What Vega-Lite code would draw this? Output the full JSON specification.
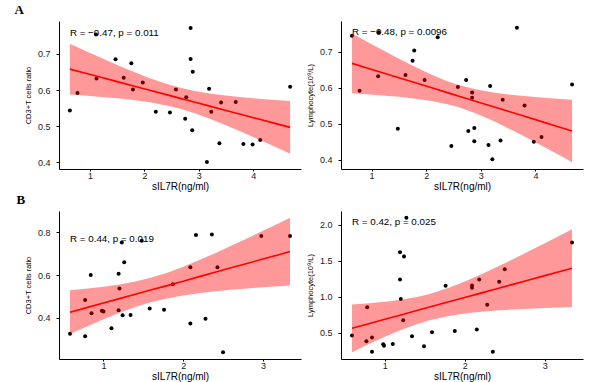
{
  "$schema": "https://vega.github.io/schema/vega-lite/v6.json",
  "background": "white",
  "padding": {"left": 14, "top": 4, "right": 5, "bottom": 1},
  "columns": 2,
  "spacing": {"row": 42, "column": 40},
  "bounds": "flush",
  "datasets": {
    "ptsA": [
      {"x": 0.63, "y": 0.544}, {"x": 0.77, "y": 0.592}, {"x": 1.11, "y": 0.754}, {"x": 1.12, "y": 0.632},
      {"x": 1.47, "y": 0.685}, {"x": 1.62, "y": 0.634}, {"x": 1.76, "y": 0.674}, {"x": 1.79, "y": 0.602},
      {"x": 1.97, "y": 0.621}, {"x": 2.21, "y": 0.540}, {"x": 2.47, "y": 0.538}, {"x": 2.58, "y": 0.602},
      {"x": 2.75, "y": 0.521}, {"x": 2.77, "y": 0.580}, {"x": 2.85, "y": 0.772}, {"x": 2.85, "y": 0.686},
      {"x": 2.89, "y": 0.651}, {"x": 2.88, "y": 0.489}, {"x": 3.15, "y": 0.401}, {"x": 3.19, "y": 0.604},
      {"x": 3.23, "y": 0.540}, {"x": 3.38, "y": 0.453}, {"x": 3.41, "y": 0.566}, {"x": 3.68, "y": 0.567},
      {"x": 3.82, "y": 0.451}, {"x": 3.99, "y": 0.450}, {"x": 4.13, "y": 0.462}, {"x": 4.68, "y": 0.609}
    ],
    "fitA": [
      {"x": 0.63, "fit": 0.6580, "lo": 0.5876, "hi": 0.7284},
      {"x": 0.9, "fit": 0.6473, "lo": 0.5848, "hi": 0.7098},
      {"x": 1.2, "fit": 0.6353, "lo": 0.5812, "hi": 0.6894},
      {"x": 1.5, "fit": 0.6234, "lo": 0.5772, "hi": 0.6696},
      {"x": 1.8, "fit": 0.6115, "lo": 0.5724, "hi": 0.6506},
      {"x": 2.1, "fit": 0.5996, "lo": 0.5662, "hi": 0.6330},
      {"x": 2.4, "fit": 0.5876, "lo": 0.5578, "hi": 0.6174},
      {"x": 2.61, "fit": 0.5793, "lo": 0.5503, "hi": 0.6083},
      {"x": 2.9, "fit": 0.5678, "lo": 0.5373, "hi": 0.5983},
      {"x": 3.2, "fit": 0.5558, "lo": 0.5211, "hi": 0.5905},
      {"x": 3.5, "fit": 0.5439, "lo": 0.5030, "hi": 0.5848},
      {"x": 3.8, "fit": 0.5320, "lo": 0.4838, "hi": 0.5802},
      {"x": 4.1, "fit": 0.5201, "lo": 0.4638, "hi": 0.5764},
      {"x": 4.4, "fit": 0.5081, "lo": 0.4433, "hi": 0.5729},
      {"x": 4.68, "fit": 0.4970, "lo": 0.4239, "hi": 0.5701}
    ],
    "ptsB": [
      {"x": 0.64, "y": 0.745}, {"x": 0.78, "y": 0.592}, {"x": 1.13, "y": 0.755}, {"x": 1.12, "y": 0.632},
      {"x": 1.48, "y": 0.486}, {"x": 1.62, "y": 0.636}, {"x": 1.75, "y": 0.675}, {"x": 1.78, "y": 0.704},
      {"x": 1.97, "y": 0.622}, {"x": 2.21, "y": 0.741}, {"x": 2.46, "y": 0.438}, {"x": 2.58, "y": 0.602},
      {"x": 2.73, "y": 0.622}, {"x": 2.77, "y": 0.480}, {"x": 2.84, "y": 0.587}, {"x": 2.84, "y": 0.572},
      {"x": 2.88, "y": 0.488}, {"x": 2.88, "y": 0.451}, {"x": 3.14, "y": 0.441}, {"x": 3.17, "y": 0.605},
      {"x": 3.21, "y": 0.401}, {"x": 3.36, "y": 0.453}, {"x": 3.40, "y": 0.567}, {"x": 3.66, "y": 0.767},
      {"x": 3.80, "y": 0.551}, {"x": 3.97, "y": 0.450}, {"x": 4.11, "y": 0.463}, {"x": 4.67, "y": 0.609}
    ],
    "fitB": [
      {"x": 0.64, "fit": 0.6680, "lo": 0.5851, "hi": 0.7509},
      {"x": 0.9, "fit": 0.6559, "lo": 0.5823, "hi": 0.7295},
      {"x": 1.2, "fit": 0.6419, "lo": 0.5788, "hi": 0.7050},
      {"x": 1.5, "fit": 0.6279, "lo": 0.5748, "hi": 0.6810},
      {"x": 1.8, "fit": 0.6139, "lo": 0.5698, "hi": 0.6580},
      {"x": 2.1, "fit": 0.5999, "lo": 0.5632, "hi": 0.6366},
      {"x": 2.4, "fit": 0.5859, "lo": 0.5539, "hi": 0.6179},
      {"x": 2.6, "fit": 0.5766, "lo": 0.5456, "hi": 0.6076},
      {"x": 2.9, "fit": 0.5626, "lo": 0.5294, "hi": 0.5958},
      {"x": 3.2, "fit": 0.5486, "lo": 0.5097, "hi": 0.5875},
      {"x": 3.5, "fit": 0.5346, "lo": 0.4876, "hi": 0.5816},
      {"x": 3.8, "fit": 0.5206, "lo": 0.4642, "hi": 0.5770},
      {"x": 4.1, "fit": 0.5066, "lo": 0.4401, "hi": 0.5731},
      {"x": 4.4, "fit": 0.4926, "lo": 0.4155, "hi": 0.5697},
      {"x": 4.67, "fit": 0.4800, "lo": 0.3931, "hi": 0.5669}
    ],
    "ptsC": [
      {"x": 0.58, "y": 0.324}, {"x": 0.77, "y": 0.312}, {"x": 0.77, "y": 0.482}, {"x": 0.84, "y": 0.600},
      {"x": 0.85, "y": 0.420}, {"x": 0.98, "y": 0.432}, {"x": 1.00, "y": 0.428}, {"x": 1.10, "y": 0.350},
      {"x": 1.19, "y": 0.606}, {"x": 1.20, "y": 0.536}, {"x": 1.19, "y": 0.434}, {"x": 1.23, "y": 0.753},
      {"x": 1.24, "y": 0.411}, {"x": 1.26, "y": 0.660}, {"x": 1.34, "y": 0.412}, {"x": 1.48, "y": 0.761},
      {"x": 1.58, "y": 0.443}, {"x": 1.76, "y": 0.437}, {"x": 1.87, "y": 0.557}, {"x": 2.09, "y": 0.637},
      {"x": 2.09, "y": 0.372}, {"x": 2.16, "y": 0.788}, {"x": 2.28, "y": 0.394}, {"x": 2.36, "y": 0.791},
      {"x": 2.43, "y": 0.637}, {"x": 2.50, "y": 0.237}, {"x": 2.98, "y": 0.783}, {"x": 3.34, "y": 0.783}
    ],
    "fitC": [
      {"x": 0.58, "fit": 0.4250, "lo": 0.3220, "hi": 0.5280},
      {"x": 0.8, "fit": 0.4477, "lo": 0.3594, "hi": 0.5360},
      {"x": 1.0, "fit": 0.4684, "lo": 0.3921, "hi": 0.5447},
      {"x": 1.2, "fit": 0.4890, "lo": 0.4224, "hi": 0.5556},
      {"x": 1.4, "fit": 0.5097, "lo": 0.4496, "hi": 0.5698},
      {"x": 1.59, "fit": 0.5293, "lo": 0.4713, "hi": 0.5873},
      {"x": 1.8, "fit": 0.5500, "lo": 0.4893, "hi": 0.6107},
      {"x": 2.0, "fit": 0.5707, "lo": 0.5031, "hi": 0.6383},
      {"x": 2.2, "fit": 0.5923, "lo": 0.5146, "hi": 0.6700},
      {"x": 2.4, "fit": 0.6130, "lo": 0.5232, "hi": 0.7028},
      {"x": 2.6, "fit": 0.6337, "lo": 0.5304, "hi": 0.7370},
      {"x": 2.8, "fit": 0.6543, "lo": 0.5366, "hi": 0.7720},
      {"x": 3.0, "fit": 0.6750, "lo": 0.5424, "hi": 0.8076},
      {"x": 3.2, "fit": 0.6956, "lo": 0.5476, "hi": 0.8436},
      {"x": 3.34, "fit": 0.7101, "lo": 0.5511, "hi": 0.8691}
    ],
    "ptsD": [
      {"x": 0.59, "y": 0.459}, {"x": 0.77, "y": 0.380}, {"x": 0.78, "y": 0.851}, {"x": 0.84, "y": 0.431},
      {"x": 0.84, "y": 0.233}, {"x": 0.98, "y": 0.339}, {"x": 0.99, "y": 0.316}, {"x": 1.10, "y": 0.343},
      {"x": 1.19, "y": 1.617}, {"x": 1.19, "y": 1.239}, {"x": 1.20, "y": 0.966}, {"x": 1.24, "y": 1.557},
      {"x": 1.27, "y": 2.097}, {"x": 1.23, "y": 0.671}, {"x": 1.34, "y": 0.449}, {"x": 1.49, "y": 0.311},
      {"x": 1.59, "y": 0.505}, {"x": 1.76, "y": 1.151}, {"x": 1.875, "y": 0.523}, {"x": 2.09, "y": 1.156},
      {"x": 2.09, "y": 1.123}, {"x": 2.15, "y": 0.542}, {"x": 2.18, "y": 1.239}, {"x": 2.28, "y": 0.888},
      {"x": 2.35, "y": 0.233}, {"x": 2.43, "y": 1.206}, {"x": 2.50, "y": 1.382}, {"x": 3.34, "y": 1.751}
    ],
    "fitD": [
      {"x": 0.59, "fit": 0.5600, "lo": 0.2280, "hi": 0.8920},
      {"x": 0.8, "fit": 0.6238, "lo": 0.3400, "hi": 0.9076},
      {"x": 1.0, "fit": 0.6845, "lo": 0.4415, "hi": 0.9275},
      {"x": 1.2, "fit": 0.7452, "lo": 0.5353, "hi": 0.9551},
      {"x": 1.4, "fit": 0.8059, "lo": 0.6173, "hi": 0.9945},
      {"x": 1.56, "fit": 0.8545, "lo": 0.6715, "hi": 1.0375},
      {"x": 1.8, "fit": 0.9274, "lo": 0.7320, "hi": 1.1228},
      {"x": 2.0, "fit": 0.9881, "lo": 0.7661, "hi": 1.2101},
      {"x": 2.2, "fit": 1.0488, "lo": 0.7902, "hi": 1.3074},
      {"x": 2.4, "fit": 1.1095, "lo": 0.8078, "hi": 1.4112},
      {"x": 2.6, "fit": 1.1702, "lo": 0.8214, "hi": 1.5190},
      {"x": 2.8, "fit": 1.2310, "lo": 0.8325, "hi": 1.6295},
      {"x": 3.0, "fit": 1.2917, "lo": 0.8417, "hi": 1.7417},
      {"x": 3.2, "fit": 1.3524, "lo": 0.8497, "hi": 1.8551},
      {"x": 3.34, "fit": 1.3949, "lo": 0.8549, "hi": 1.9349}
    ]
  },
  "concat": [
    {
      "width": 242, "height": 148,
      "title": {"text": "A", "anchor": "start", "frame": "bounds", "font": "Liberation Serif", "fontSize": 13, "fontWeight": "bold", "color": "black", "offset": 4, "dx": -10},
      "layer": [
        {"data": {"values": [{"label": "R = −0.47, p = 0.011"}]},
         "mark": {"type": "text", "align": "left", "baseline": "middle", "fontSize": 9.8, "color": "black"},
         "encoding": {"text": {"field": "label"}, "x": {"datum": 0.63}, "y": {"datum": 0.759}}},
        {"data": {"name": "ptsA"},
         "mark": {"type": "circle", "size": 16, "color": "black", "opacity": 1},
         "encoding": {
           "x": {"field": "x", "type": "quantitative", "title": "sIL7R(ng/ml)", "scale": {"domain": [0.43, 4.88], "nice": false, "zero": false}, "axis": {"values": [1, 2, 3, 4], "format": "d"}},
           "y": {"field": "y", "type": "quantitative", "title": "CD3+T cells ratio", "scale": {"domain": [0.382, 0.791], "nice": false, "zero": false}, "axis": {"values": [0.4, 0.5, 0.6, 0.7], "format": ".1f"}}}},
        {"data": {"name": "fitA"},
         "mark": {"type": "area", "color": "#ff0000", "opacity": 0.4},
         "encoding": {
           "x": {"field": "x", "type": "quantitative", "title": "sIL7R(ng/ml)"},
           "y": {"field": "lo", "type": "quantitative", "title": "CD3+T cells ratio"},
           "y2": {"field": "hi"}}},
        {"data": {"name": "fitA"},
         "mark": {"type": "line", "color": "#ff0000", "strokeWidth": 1.6},
         "encoding": {
           "x": {"field": "x", "type": "quantitative", "title": "sIL7R(ng/ml)"},
           "y": {"field": "fit", "type": "quantitative", "title": "CD3+T cells ratio"}}}
      ]
    },
    {
      "width": 242, "height": 148,
      "layer": [
        {"data": {"values": [{"label": "R = −0.48, p = 0.0096"}]},
         "mark": {"type": "text", "align": "left", "baseline": "middle", "fontSize": 9.8, "color": "black"},
         "encoding": {"text": {"field": "label"}, "x": {"datum": 0.64}, "y": {"datum": 0.755}}},
        {"data": {"name": "ptsB"},
         "mark": {"type": "circle", "size": 16, "color": "black", "opacity": 1},
         "encoding": {
           "x": {"field": "x", "type": "quantitative", "title": "sIL7R(ng/ml)", "scale": {"domain": [0.44, 4.87], "nice": false, "zero": false}, "axis": {"values": [1, 2, 3, 4], "format": "d"}},
           "y": {"field": "y", "type": "quantitative", "title": "Lymphocyte(10⁹/L)", "scale": {"domain": [0.374, 0.786], "nice": false, "zero": false}, "axis": {"values": [0.4, 0.5, 0.6, 0.7], "format": ".1f"}}}},
        {"data": {"name": "fitB"},
         "mark": {"type": "area", "color": "#ff0000", "opacity": 0.4},
         "encoding": {
           "x": {"field": "x", "type": "quantitative", "title": "sIL7R(ng/ml)"},
           "y": {"field": "lo", "type": "quantitative", "title": "Lymphocyte(10⁹/L)"},
           "y2": {"field": "hi"}}},
        {"data": {"name": "fitB"},
         "mark": {"type": "line", "color": "#ff0000", "strokeWidth": 1.6},
         "encoding": {
           "x": {"field": "x", "type": "quantitative", "title": "sIL7R(ng/ml)"},
           "y": {"field": "fit", "type": "quantitative", "title": "Lymphocyte(10⁹/L)"}}}
      ]
    },
    {
      "width": 242, "height": 148,
      "title": {"text": "B", "anchor": "start", "frame": "bounds", "font": "Liberation Serif", "fontSize": 13, "fontWeight": "bold", "color": "black", "offset": 4, "dx": -8},
      "layer": [
        {"data": {"values": [{"label": "R = 0.44, p = 0.019"}]},
         "mark": {"type": "text", "align": "left", "baseline": "middle", "fontSize": 9.8, "color": "black"},
         "encoding": {"text": {"field": "label"}, "x": {"datum": 0.58}, "y": {"datum": 0.769}}},
        {"data": {"name": "ptsC"},
         "mark": {"type": "circle", "size": 16, "color": "black", "opacity": 1},
         "encoding": {
           "x": {"field": "x", "type": "quantitative", "title": "sIL7R(ng/ml)", "scale": {"domain": [0.442, 3.478], "nice": false, "zero": false}, "axis": {"values": [1, 2, 3], "format": "d"}},
           "y": {"field": "y", "type": "quantitative", "title": "CD3+T cells ratio", "scale": {"domain": [0.205, 0.901], "nice": false, "zero": false}, "axis": {"values": [0.4, 0.6, 0.8], "format": ".1f"}}}},
        {"data": {"name": "fitC"},
         "mark": {"type": "area", "color": "#ff0000", "opacity": 0.4},
         "encoding": {
           "x": {"field": "x", "type": "quantitative", "title": "sIL7R(ng/ml)"},
           "y": {"field": "lo", "type": "quantitative", "title": "CD3+T cells ratio"},
           "y2": {"field": "hi"}}},
        {"data": {"name": "fitC"},
         "mark": {"type": "line", "color": "#ff0000", "strokeWidth": 1.6},
         "encoding": {
           "x": {"field": "x", "type": "quantitative", "title": "sIL7R(ng/ml)"},
           "y": {"field": "fit", "type": "quantitative", "title": "CD3+T cells ratio"}}}
      ]
    },
    {
      "width": 242, "height": 148,
      "layer": [
        {"data": {"values": [{"label": "R = 0.42, p = 0.025"}]},
         "mark": {"type": "text", "align": "left", "baseline": "middle", "fontSize": 9.8, "color": "black"},
         "encoding": {"text": {"field": "label"}, "x": {"datum": 0.59}, "y": {"datum": 2.04}}},
        {"data": {"name": "ptsD"},
         "mark": {"type": "circle", "size": 16, "color": "black", "opacity": 1},
         "encoding": {
           "x": {"field": "x", "type": "quantitative", "title": "sIL7R(ng/ml)", "scale": {"domain": [0.4525, 3.4775], "nice": false, "zero": false}, "axis": {"values": [1, 2, 3], "format": "d"}},
           "y": {"field": "y", "type": "quantitative", "title": "Lymphocyte(10⁹/L)", "scale": {"domain": [0.133, 2.19], "nice": false, "zero": false}, "axis": {"values": [0.5, 1.0, 1.5, 2.0], "format": ".1f"}}}},
        {"data": {"name": "fitD"},
         "mark": {"type": "area", "color": "#ff0000", "opacity": 0.4},
         "encoding": {
           "x": {"field": "x", "type": "quantitative", "title": "sIL7R(ng/ml)"},
           "y": {"field": "lo", "type": "quantitative", "title": "Lymphocyte(10⁹/L)"},
           "y2": {"field": "hi"}}},
        {"data": {"name": "fitD"},
         "mark": {"type": "line", "color": "#ff0000", "strokeWidth": 1.6},
         "encoding": {
           "x": {"field": "x", "type": "quantitative", "title": "sIL7R(ng/ml)"},
           "y": {"field": "fit", "type": "quantitative", "title": "Lymphocyte(10⁹/L)"}}}
      ]
    }
  ],
  "config": {
    "font": "Liberation Sans",
    "view": {"stroke": null},
    "axis": {
      "grid": false,
      "domainColor": "black",
      "domainWidth": 1,
      "tickColor": "black",
      "tickSize": 3,
      "labelColor": "#1a1a1a",
      "labelFontSize": 9,
      "titleColor": "black",
      "titleFontWeight": "normal"
    },
    "axisX": {"labelPadding": 0, "titlePadding": 1.5, "titleFontSize": 10, "tickSize": 2},
    "axisY": {"labelPadding": 6, "titlePadding": 5, "titleFontSize": 7.5}
  }
}
